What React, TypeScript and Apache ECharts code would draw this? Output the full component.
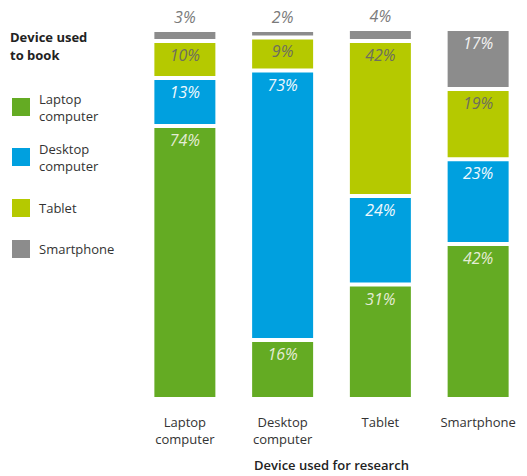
import React, { useEffect, useRef } from "react";
import * as echarts from "echarts";

const categories = ["Laptop\ncomputer", "Desktop\ncomputer", "Tablet", "Smartphone"];
const seriesNames = ["Laptop computer", "Desktop computer", "Tablet", "Smartphone"];
const laptopValues = [74, 16, 31, 42];
const desktopValues = [13, 73, 24, 23];
const tabletValues = [10, 9, 42, 19];
const smartphoneValues = [3, 2, 4, 17];
const colors = ["#64ab23", "#00a0df", "#b5c900", "#8c8c8c"];
const labelColors = ["#e4ecd6", "#eef8fd", "#6e6e5e", "#f2f2f2"];

const FONT = "'Open Sans', 'Noto Sans', sans-serif";

export default function App() {
  const ref = useRef<HTMLDivElement>(null);
  useEffect(() => {
    document.body.style.margin = "0";
    const chart = echarts.init(ref.current!, null, { renderer: "svg" });
    const values = [laptopValues, desktopValues, tabletValues, smartphoneValues];
    const series = seriesNames.map((name, i) => ({
      name,
      type: "bar",
      stack: "total",
      barWidth: 65,
      itemStyle: { color: colors[i], borderColor: "#ffffff", borderWidth: 2 },
      label: {
        show: true,
        position: "insideTop",
        distance: 6,
        formatter: "{c}%",
        fontFamily: FONT,
        fontStyle: "italic",
        fontSize: 16,
        color: labelColors[i],
      },
      data: values[i].map((v) =>
        i === 3 && v < 10
          ? { value: v, label: { position: "top", distance: 5, color: "#7a7a7a" } }
          : { value: v }
      ),
    }));
    const legendTops = [90, 140, 197, 238];
    const legend = seriesNames.map((name, i) => ({
      data: [name],
      orient: "vertical",
      left: 10,
      top: legendTops[i],
      padding: 0,
      icon: "rect",
      itemWidth: 20,
      itemHeight: 20,
      selectedMode: false,
      formatter: (n: string) => (n === "Laptop computer" || n === "Desktop computer" ? n.replace(" ", "\n") : n),
      textStyle: { fontFamily: FONT, fontSize: 13, lineHeight: 17, color: "#333", padding: [0, 0, 0, 3] },
    }));
    chart.setOption({
      animation: false,
      title: {
        text: "Device used\nto book",
        left: 10,
        top: 28,
        padding: 0,
        textStyle: { fontFamily: FONT, fontSize: 13, fontWeight: "bold", lineHeight: 18, color: "#222" },
      },
      legend,
      grid: { left: 136, right: 0, top: 30, bottom: 75, containLabel: false },
      xAxis: {
        type: "category",
        data: categories,
        axisLine: { show: false },
        axisTick: { show: false },
        axisLabel: { interval: 0, margin: 14, fontFamily: FONT, fontSize: 13, lineHeight: 17, color: "#333" },
        name: "Device used for research",
        nameLocation: "middle",
        nameGap: 59,
        nameTextStyle: { fontFamily: FONT, fontSize: 13, fontWeight: 600, color: "#222" },
      },
      yAxis: { type: "value", min: 0, max: 100, show: false },
      series,
    });
    return () => chart.dispose();
  }, []);
  return <div ref={ref} style={{ position: "absolute", left: 0, top: 0, width: 527, height: 476 }} />;
}
